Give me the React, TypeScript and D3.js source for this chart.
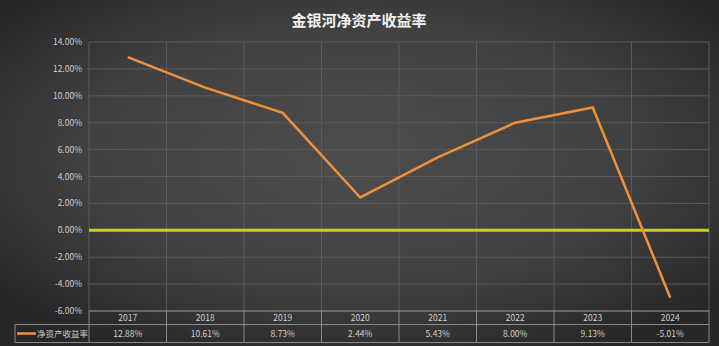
import React from "react";
import * as d3 from "d3";

const categories = ["2017", "2018", "2019", "2020", "2021", "2022", "2023", "2024"];
const roeValues = [12.88, 10.61, 8.73, 2.44, 5.43, 8.0, 9.13, -5.01];
const yTicks = [14, 12, 10, 8, 6, 4, 2, 0, -2, -4, -6];
const seriesName = "净资产收益率";
const title = "金银河净资产收益率";

const W = 719, H = 346;
const left = 89, right = 709, top = 42, bottom = 311;
const row1 = 324.5, row2 = 342.5;

export default function App() {
  const x = d3.scaleBand<string>().domain(categories).range([left, right]).padding(0);
  const y = d3.scaleLinear().domain([-6, 14]).range([bottom, top]);
  const line = d3
    .line<number>()
    .x((_, i) => (x(categories[i]) as number) + x.bandwidth() / 2)
    .y((d) => y(d));
  const font = "'Noto Sans CJK SC', 'Noto Sans', sans-serif";
  return (
    <svg width={W} height={H} style={{ position: "absolute", left: 0, top: 0, display: "block" }}>
      <defs>
        <radialGradient id="bg" cx="50%" cy="45%" r="65%">
          <stop offset="0%" stopColor="#4d4d4d" />
          <stop offset="60%" stopColor="#404040" />
          <stop offset="100%" stopColor="#262626" />
        </radialGradient>
      </defs>
      <rect x={0} y={0} width={W} height={H} fill="url(#bg)" />
      <text x={359} y={26} textAnchor="middle" fontFamily={font} fontSize={15} fontWeight="bold" fill="#f2f2f2">
        {title}
      </text>
      {yTicks.map((t) => (
        <g key={t}>
          <line x1={left} x2={right} y1={y(t)} y2={y(t)} stroke="#5a5a5a" strokeWidth={1} />
          <text x={82} y={y(t) + 3} textAnchor="end" fontFamily={font} fontSize={8.5} fill="#d0d0d0">
            {t.toFixed(2) + "%"}
          </text>
        </g>
      ))}
      {categories.map((c) => (
        <line key={c} x1={x(c) as number} x2={x(c) as number} y1={top} y2={bottom} stroke="#5a5a5a" strokeWidth={1} />
      ))}
      <line x1={right} x2={right} y1={top} y2={bottom} stroke="#5a5a5a" strokeWidth={1} />
      <line x1={left} x2={right} y1={y(0)} y2={y(0)} stroke="#cccc2e" strokeWidth={3} />
      <path d={line(roeValues) || ""} fill="none" stroke="#f0903c" strokeWidth={2.5} strokeLinejoin="miter" />
      {/* data table */}
      <g stroke="#8a8a8a" strokeWidth={1} fill="none">
        <line x1={left} x2={right} y1={bottom} y2={bottom} />
        <line x1={15} x2={right} y1={row1} y2={row1} />
        <line x1={15} x2={right} y1={row2} y2={row2} />
        <line x1={15} x2={15} y1={row1} y2={row2} />
        {categories.map((c) => (
          <line key={c} x1={x(c) as number} x2={x(c) as number} y1={bottom} y2={row2} />
        ))}
        <line x1={right} x2={right} y1={bottom} y2={row2} />
      </g>
      {categories.map((c, i) => (
        <g key={c}>
          <text x={(x(c) as number) + x.bandwidth() / 2} y={bottom + 10} textAnchor="middle" fontFamily={font} fontSize={8.5} fill="#d0d0d0">
            {c}
          </text>
          <text x={(x(c) as number) + x.bandwidth() / 2} y={row1 + 12} textAnchor="middle" fontFamily={font} fontSize={8.5} fill="#d0d0d0">
            {roeValues[i].toFixed(2) + "%"}
          </text>
        </g>
      ))}
      <line x1={17} x2={36} y1={333.5} y2={333.5} stroke="#f0903c" strokeWidth={2.5} />
      <text x={37} y={row1 + 12} fontFamily={font} fontSize={8.5} fill="#d0d0d0">
        {seriesName}
      </text>
    </svg>
  );
}
